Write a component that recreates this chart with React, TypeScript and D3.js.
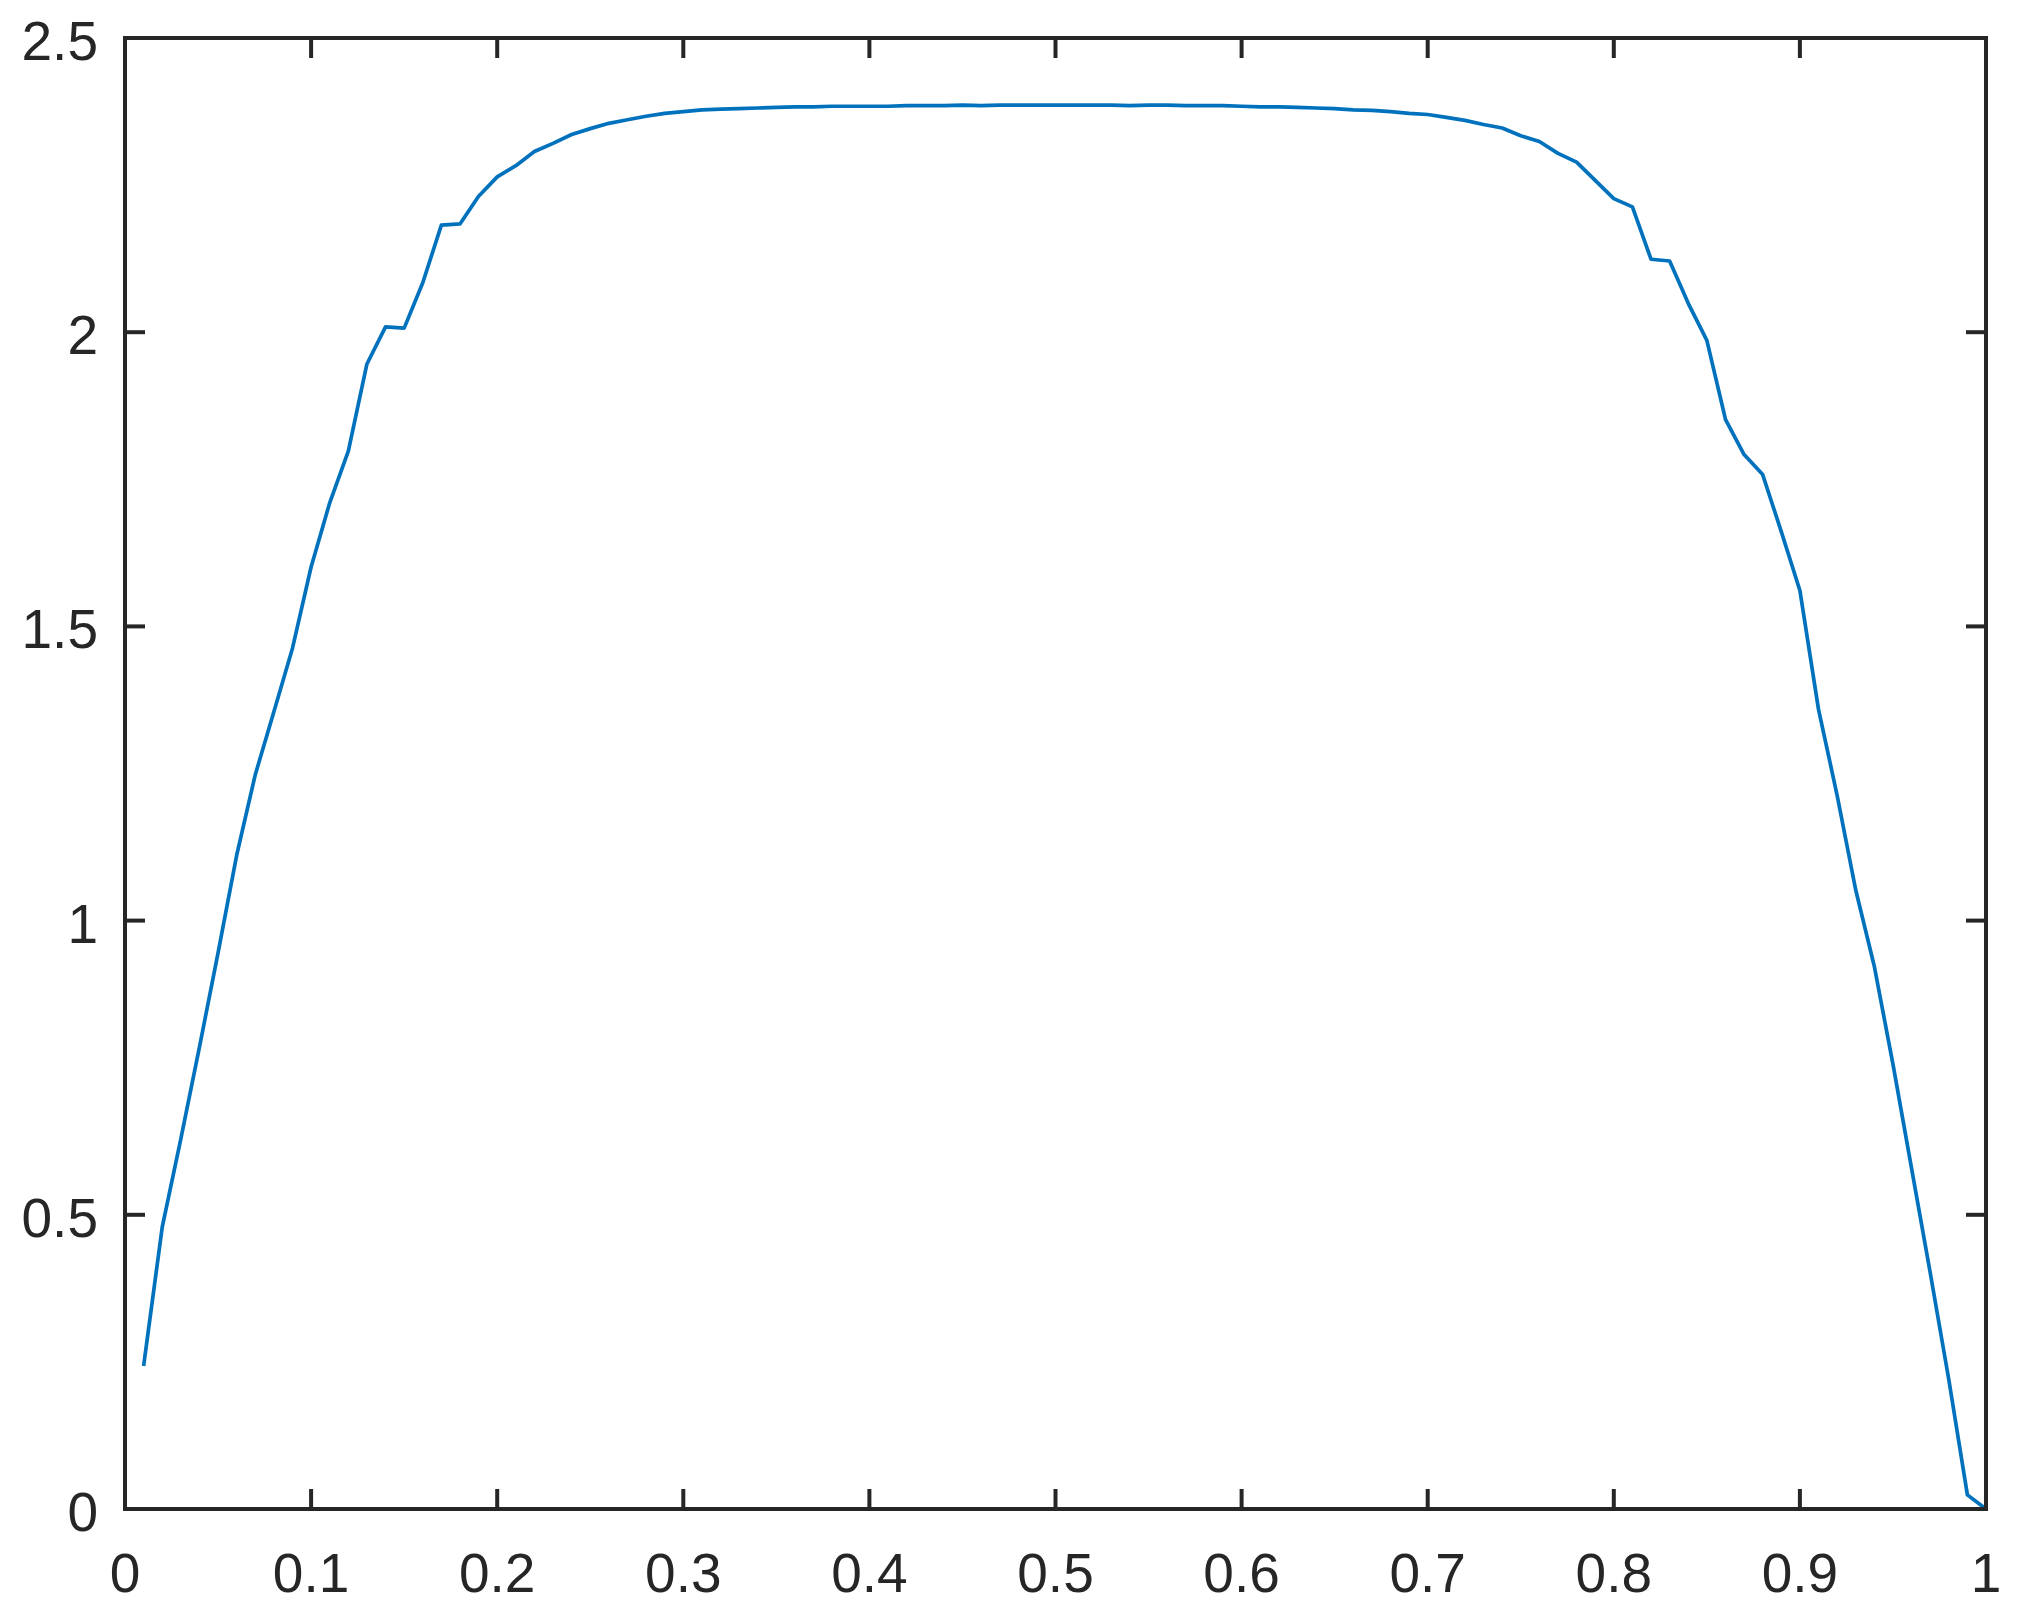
import React from 'react';
import * as d3 from 'd3';

// x positions 0.01 .. 1.00
const xValues = [
  0.01, 0.02, 0.03, 0.04, 0.05, 0.06, 0.07, 0.08, 0.09, 0.1,
  0.11, 0.12, 0.13, 0.14, 0.15, 0.16, 0.17, 0.18, 0.19, 0.2,
  0.21, 0.22, 0.23, 0.24, 0.25, 0.26, 0.27, 0.28, 0.29, 0.3,
  0.31, 0.32, 0.33, 0.34, 0.35, 0.36, 0.37, 0.38, 0.39, 0.4,
  0.41, 0.42, 0.43, 0.44, 0.45, 0.46, 0.47, 0.48, 0.49, 0.5,
  0.51, 0.52, 0.53, 0.54, 0.55, 0.56, 0.57, 0.58, 0.59, 0.6,
  0.61, 0.62, 0.63, 0.64, 0.65, 0.66, 0.67, 0.68, 0.69, 0.7,
  0.71, 0.72, 0.73, 0.74, 0.75, 0.76, 0.77, 0.78, 0.79, 0.8,
  0.81, 0.82, 0.83, 0.84, 0.85, 0.86, 0.87, 0.88, 0.89, 0.9,
  0.91, 0.92, 0.93, 0.94, 0.95, 0.96, 0.97, 0.98, 0.99, 1.0,
];

const yValues = [
  0.243, 0.479, 0.629, 0.785, 0.945, 1.111, 1.248, 1.355, 1.463, 1.601,
  1.71, 1.798, 1.946, 2.009, 2.007, 2.084, 2.182, 2.184, 2.231, 2.264,
  2.283, 2.307, 2.321, 2.336, 2.346, 2.355, 2.361, 2.367, 2.372, 2.375,
  2.378, 2.379, 2.38, 2.381, 2.382, 2.383, 2.383, 2.384, 2.384, 2.384,
  2.384, 2.385, 2.385, 2.385, 2.386, 2.385, 2.386, 2.386, 2.386, 2.386,
  2.386, 2.386, 2.386, 2.385, 2.386, 2.386, 2.385, 2.385, 2.385, 2.384,
  2.383, 2.383, 2.382, 2.381, 2.38, 2.378, 2.377, 2.375, 2.372, 2.37,
  2.365, 2.36, 2.353, 2.347, 2.334, 2.324, 2.304, 2.289, 2.258, 2.227,
  2.213, 2.124, 2.121, 2.049, 1.986, 1.852, 1.792, 1.758, 1.661, 1.561,
  1.359, 1.213, 1.052, 0.922, 0.756, 0.579, 0.402, 0.22, 0.024, 0.0,
];

const xTicks = [0, 0.1, 0.2, 0.3, 0.4, 0.5, 0.6, 0.7, 0.8, 0.9, 1];
const xTickLabels = ['0', '0.1', '0.2', '0.3', '0.4', '0.5', '0.6', '0.7', '0.8', '0.9', '1'];
const yTicks = [0, 0.5, 1, 1.5, 2, 2.5];
const yTickLabels = ['0', '0.5', '1', '1.5', '2', '2.5'];

export default function App() {
  const width = 2019;
  const height = 1616;
  const left = 125, right = 1986, top = 38, bottom = 1509;
  const axisColor = '#262626';
  const tickLen = 20;
  const fontSize = 55;

  const x = d3.scaleLinear().domain([0, 1]).range([left, right]);
  const y = d3.scaleLinear().domain([0, 2.5]).range([bottom, top]);

  const line = d3.line<number>()
    .x((_, i) => x(xValues[i]))
    .y(d => y(d));

  return (
    <svg
      width={width}
      height={height}
      style={{ position: 'fixed', left: 0, top: 0, background: '#fff' }}
      fontFamily="'Liberation Sans', Arial, Helvetica, sans-serif"
    >
      <rect x={0} y={0} width={width} height={height} fill="#fff" />
      <path d={line(yValues) || ''} fill="none" stroke="#0072BD" strokeWidth={3.7} strokeLinejoin="round" />

      {/* ticks on all four sides, pointing in */}
      {xTicks.map(t => (
        <g key={'xt' + t}>
          <line x1={x(t)} x2={x(t)} y1={bottom} y2={bottom - tickLen} stroke={axisColor} strokeWidth={4} />
          <line x1={x(t)} x2={x(t)} y1={top} y2={top + tickLen} stroke={axisColor} strokeWidth={4} />
        </g>
      ))}
      {yTicks.map(t => (
        <g key={'yt' + t}>
          <line x1={left} x2={left + tickLen} y1={y(t)} y2={y(t)} stroke={axisColor} strokeWidth={4} />
          <line x1={right} x2={right - tickLen} y1={y(t)} y2={y(t)} stroke={axisColor} strokeWidth={4} />
        </g>
      ))}

      <rect x={left} y={top} width={right - left} height={bottom - top} fill="none" stroke={axisColor} strokeWidth={4} />

      {xTicks.map((t, i) => (
        <text key={'xl' + t} x={x(t)} y={1592} textAnchor="middle" fontSize={fontSize} fill={axisColor}>
          {xTickLabels[i]}
        </text>
      ))}
      {yTicks.map((t, i) => (
        <text key={'yl' + t} x={98} y={y(t) + 22} textAnchor="end" fontSize={fontSize} fill={axisColor}>
          {yTickLabels[i]}
        </text>
      ))}
    </svg>
  );
}
